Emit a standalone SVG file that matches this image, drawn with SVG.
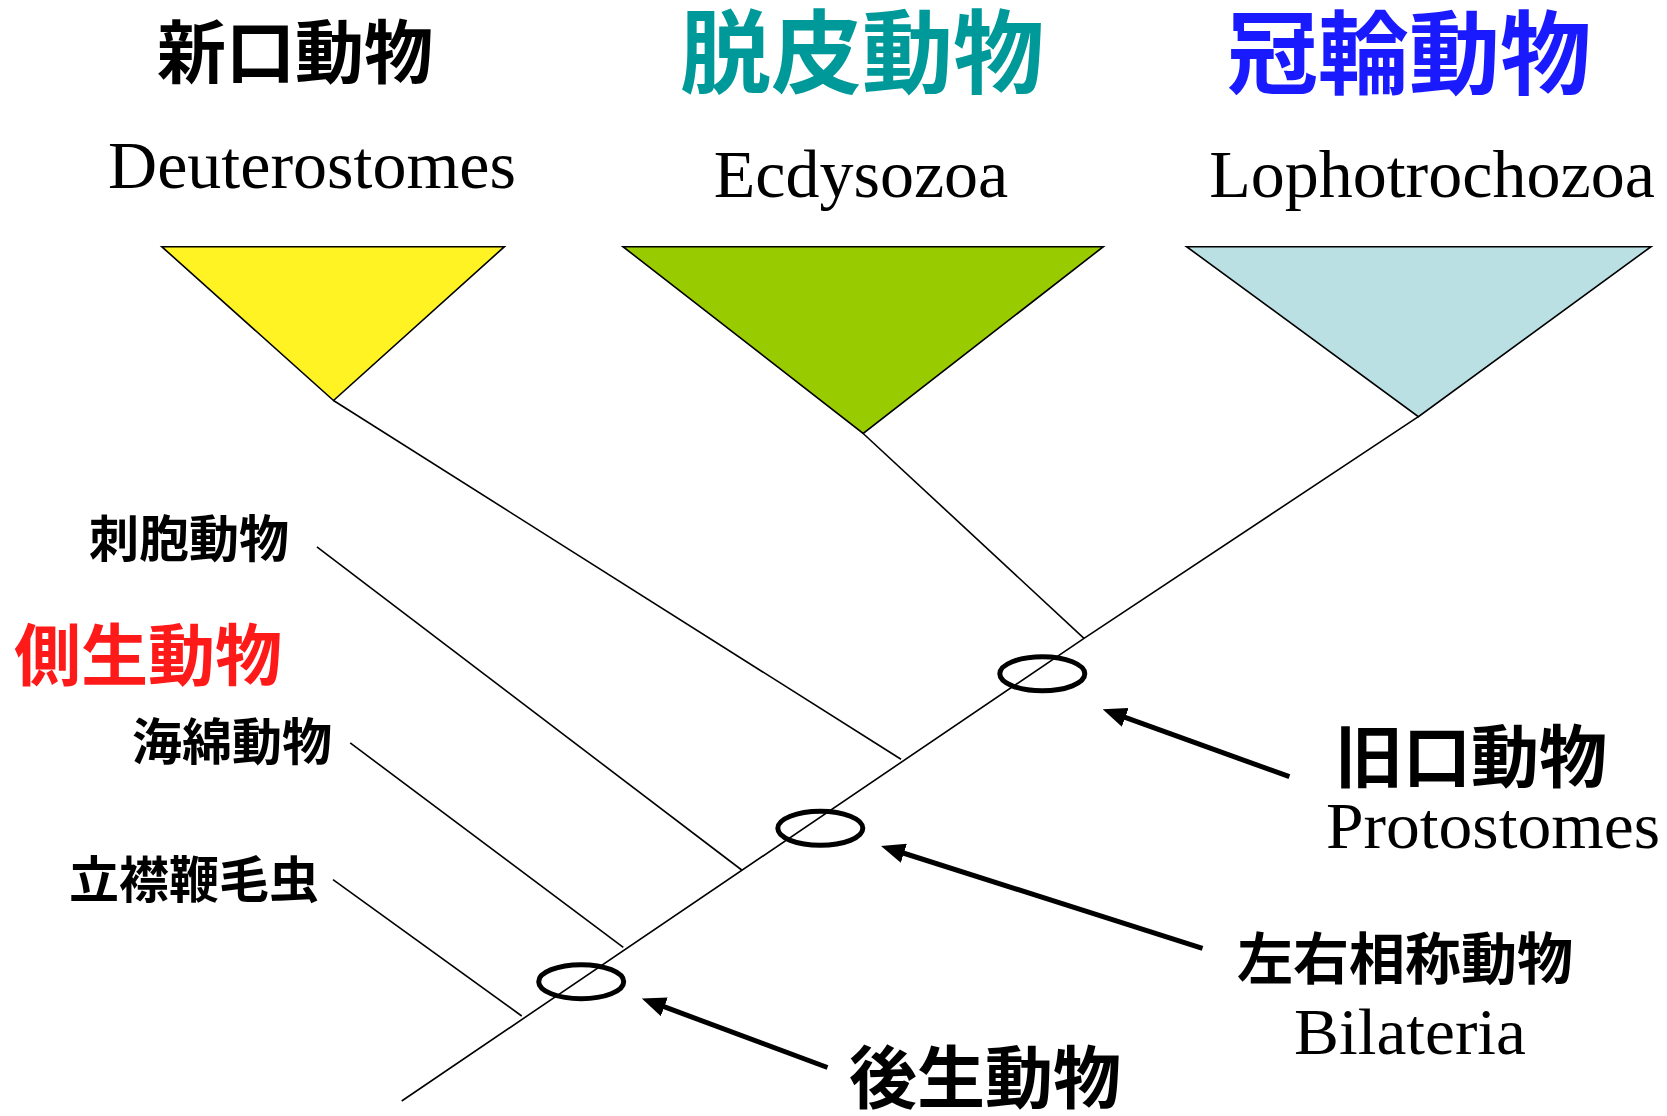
<svg xmlns="http://www.w3.org/2000/svg" width="1667" height="1116" viewBox="0 0 1667 1116">
<style>
.jp{font-family:"Noto Sans CJK JP","Noto Sans CJK SC",sans-serif;font-weight:bold;text-anchor:middle}
.en{font-family:"Liberation Serif","Times New Roman",serif;text-anchor:middle;fill:#000}
.tri{stroke:#000;stroke-width:1.6;stroke-linejoin:miter}
.br{stroke:#000;stroke-width:1.6;fill:none}
.node{fill:none;stroke:#000;stroke-width:5}
.arr{stroke:#000;stroke-width:5;fill:none;marker-end:url(#ah)}
</style>
<defs>
<marker id="ah" viewBox="0 0 24 20" refX="9" refY="10" markerWidth="24" markerHeight="20" markerUnits="userSpaceOnUse" orient="auto">
<path d="M0,0 L24,10 L0,20 Z" fill="#000"/>
</marker>
</defs>
<rect width="1667" height="1116" fill="#fff"/>

<g id="connectors">
<path class="br" d="M401.7,1101 L1084,638.3 L1418.4,416.7"/>
<line class="br" x1="333.5" y1="400.5" x2="901" y2="759.3"/>
<line class="br" x1="863.2" y1="433.5" x2="1084" y2="638.3"/>
<line class="br" x1="316.9" y1="546.9" x2="741.7" y2="870"/>
<line class="br" x1="350.2" y1="742.9" x2="623.3" y2="947.3"/>
<line class="br" x1="333" y1="879.6" x2="521.7" y2="1016"/>
<line class="arr" x1="1289.4" y1="776.7" x2="1116.8" y2="714.4"/>
<line class="arr" x1="1202.5" y1="948.3" x2="895.3" y2="850.5"/>
<line class="arr" x1="827.5" y1="1067.5" x2="655.9" y2="1003.7"/>
</g>

<g id="deuterostomes">
<polygon class="tri" fill="#FFF324" points="161.8,246.7 504.4,246.7 333.5,400.5"/>
<text class="jp" x="295" y="78" font-size="69" fill="#000">新口動物</text>
<text class="en" x="312" y="188" font-size="68">Deuterostomes</text>
</g>

<g id="ecdysozoa">
<polygon class="tri" fill="#99CC00" points="623,246.7 1103.3,246.7 863.2,433.5"/>
<text class="jp" x="862" y="86" font-size="91" fill="#009999">脱皮動物</text>
<text class="en" x="861" y="197" font-size="68">Ecdysozoa</text>
</g>

<g id="lophotrochozoa">
<polygon class="tri" fill="#BAE0E4" points="1186.6,246.7 1651,246.7 1418.4,416.7"/>
<text class="jp" x="1409" y="87" font-size="91" fill="#1A1AFF">冠輪動物</text>
<text class="en" x="1432" y="197" font-size="68">Lophotrochozoa</text>
</g>

<g id="cnidaria"><text class="jp" x="189" y="557" font-size="50" fill="#000">刺胞動物</text></g>
<g id="parazoa"><text class="jp" x="148" y="680" font-size="67" fill="#FF1A1A">側生動物</text></g>
<g id="porifera"><text class="jp" x="232" y="760" font-size="50" fill="#000">海綿動物</text></g>
<g id="choanoflagellates"><text class="jp" x="194" y="898" font-size="50" fill="#000">立襟鞭毛虫</text></g>

<g id="node-protostomes">
<ellipse class="node" cx="1042.3" cy="673.8" rx="42.5" ry="17"/>
<text class="jp" x="1471" y="782" font-size="68" fill="#000">旧口動物</text>
<text class="en" x="1493" y="848" font-size="65" textLength="334" lengthAdjust="spacingAndGlyphs">Protostomes</text>
</g>

<g id="node-bilateria">
<ellipse class="node" cx="820.3" cy="828.3" rx="42.5" ry="17"/>
<text class="jp" x="1405" y="979" font-size="56" fill="#000">左右相称動物</text>
<text class="en" x="1410" y="1054" font-size="66" textLength="232" lengthAdjust="spacingAndGlyphs">Bilateria</text>
</g>

<g id="node-metazoa">
<ellipse class="node" cx="581.2" cy="981.7" rx="42.5" ry="17"/>
<text class="jp" x="985" y="1103" font-size="68" fill="#000">後生動物</text>
</g>
</svg>
